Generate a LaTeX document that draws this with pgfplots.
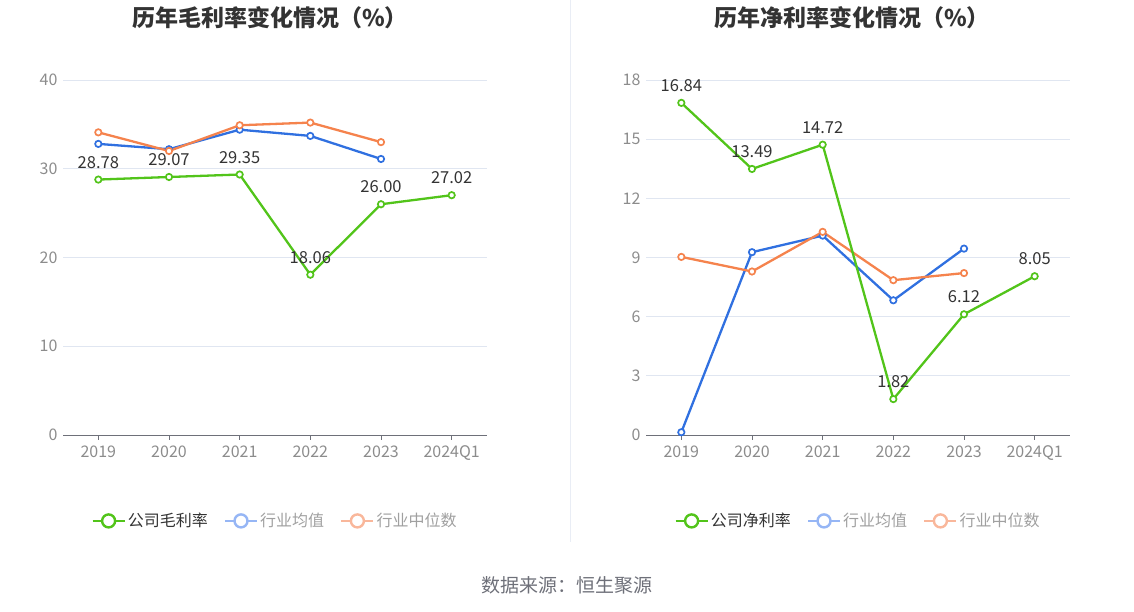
\documentclass[border=0pt]{standalone}
\usepackage{pgfplots}
\pgfplotsset{compat=1.18}
\usepackage{fontspec}
\setmainfont{Noto Sans CJK SC}
\definecolor{cgreen}{RGB}{82,196,26}
\definecolor{cblue}{RGB}{48,112,224}
\definecolor{corange}{RGB}{245,131,77}
\definecolor{lblue}{RGB}{150,182,245}
\definecolor{lorange}{RGB}{249,183,155}
\definecolor{gridc}{RGB}{224,230,241}
\definecolor{axc}{RGB}{110,112,121}
\definecolor{tickc}{RGB}{140,140,140}
\definecolor{labc}{RGB}{51,51,51}
\definecolor{legc}{RGB}{160,160,160}
\pgfplotsset{
  base/.style={
    scale only axis, width=424pt, height=355pt,
    xmin=-0.5, xmax=5.5,
    xtick={0,1,2,3,4,5},
    xticklabels={2019,2020,2021,2022,2023,2024Q1},
    axis x line*=bottom, axis y line*=left,
    x axis line style={axc, line width=0.8pt, -},
    y axis line style={draw=none},
    xtick style={axc, line width=0.8pt},
    major tick length=5pt,
    xtick align=outside,
    ymajorgrids, grid style={gridc, line width=0.8pt},
    ytick style={draw=none},
    tick label style={font=\fontsize{16}{18}\selectfont, text=tickc},
    /pgf/number format/assume math mode=true,
    xticklabel style={yshift=-2pt},
    yticklabel style={xshift=-2pt},
    legend columns=3,
    legend style={draw=none, fill=none, font=\fontsize{16}{18}\selectfont,
      at={(0.5,-0.242)}, anchor=center,
      /tikz/every even column/.append style={column sep=14pt}},
    legend image code/.code={
      \draw[line width=2.4pt] (0pt,0pt) -- (32pt,0pt);
      \draw[line width=2.4pt, fill=white] (16pt,0pt) circle (6.5pt);
    },
  },
  ser/.style={line width=2.3pt, mark=*, mark size=3.2pt,
    mark options={fill=white, line width=1.7pt}},
  lab/.style={nodes near coords, point meta=explicit symbolic,
    every node near coord/.append style={font=\fontsize{16.5}{19}\selectfont, text=labc, yshift=7pt}},
}
\begin{document}
\begin{tikzpicture}[x=1pt,y=1pt]
\useasboundingbox (0,0) rectangle (1134,612);
\draw[gridc!70, line width=0.8pt] (570,612) -- (570,70);
\node[font=\bfseries\fontsize{23}{26}\selectfont, text=labc] at (270,594) {历年毛利率变化情况（\%）};
\node[font=\bfseries\fontsize{23}{26}\selectfont, text=labc] at (852,594) {历年净利率变化情况（\%）};
\node[font=\fontsize{19}{22}\selectfont, text=axc] at (567,27) {数据来源：恒生聚源};

\begin{axis}[base, at={(63pt,177pt)}, anchor=south west,
  ymin=0, ymax=40, ytick={0,10,20,30,40},
  ]
\addplot[ser, cblue, forget plot] coordinates {(0,32.8) (1,32.2) (2,34.4) (3,33.7) (4,31.1)};
\addplot[ser, corange, forget plot] coordinates {(0,34.1) (1,32.0) (2,34.9) (3,35.2) (4,33.0)};
\addplot[ser, cgreen, forget plot, lab]
  coordinates {(0,28.78)[28.78] (1,29.07)[29.07] (2,29.35)[29.35] (3,18.06)[18.06] (4,26.00)[26.00] (5,27.02)[27.02]};
\addlegendimage{cgreen}
\addlegendentry{\textcolor{labc}{公司毛利率}}
\addlegendimage{lblue}
\addlegendentry{\textcolor{legc}{行业均值}}
\addlegendimage{lorange}
\addlegendentry{\textcolor{legc}{行业中位数}}
\end{axis}

\begin{axis}[base, at={(646pt,177pt)}, anchor=south west,
  ymin=0, ymax=18, ytick={0,3,6,9,12,15,18},
  ]
\addplot[ser, cblue, forget plot] coordinates {(0,0.14) (1,9.27) (2,10.11) (3,6.83) (4,9.45)};
\addplot[ser, corange, forget plot] coordinates {(0,9.03) (1,8.29) (2,10.30) (3,7.85) (4,8.21)};
\addplot[ser, cgreen, forget plot, lab]
  coordinates {(0,16.84)[16.84] (1,13.49)[13.49] (2,14.72)[14.72] (3,1.82)[1.82] (4,6.12)[6.12] (5,8.05)[8.05]};
\addlegendimage{cgreen}
\addlegendentry{\textcolor{labc}{公司净利率}}
\addlegendimage{lblue}
\addlegendentry{\textcolor{legc}{行业均值}}
\addlegendimage{lorange}
\addlegendentry{\textcolor{legc}{行业中位数}}
\end{axis}
\end{tikzpicture}
\end{document}
